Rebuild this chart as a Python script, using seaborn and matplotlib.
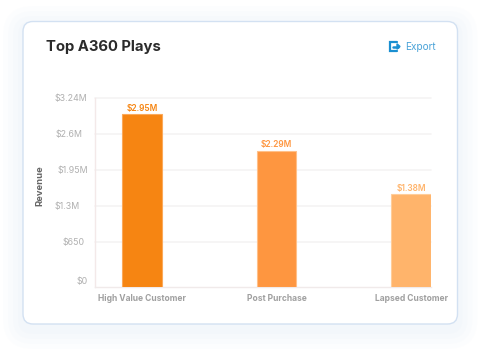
import matplotlib
matplotlib.use('Agg')
import matplotlib.pyplot as plt
import matplotlib.transforms as mtrans
from matplotlib.patches import FancyBboxPatch
import pandas as pd
import seaborn as sns

categories = ['High Value Customer', 'Post Purchase', 'Lapsed Customer']
# bar heights in $M as drawn (the third bar is drawn taller than its label says)
bar_heights = [2.95, 2.29, 1.51]
bar_labels = ['$2.95M', '$2.29M', '$1.38M']
bar_colors = ['#f68512', '#fe9640', '#ffb46b']
edge_colors = ['#fba95a', '#ffc089', '#ffcd9a']
y_ticks = [0, 0.65, 1.3, 1.95, 2.6, 3.24]
y_tick_labels = ['$0', '$650', '$1.3M', '$1.95M', '$2.6M', '$3.24M']

df = pd.DataFrame({'play': categories, 'revenue': bar_heights})

sns.set_style('white')
plt.rcParams['font.family'] = ['Inter', 'DejaVu Sans']

fig = plt.figure(figsize=(4.8, 3.6), dpi=100, facecolor='white')

# background layer in pixel coordinates for the card
bg = fig.add_axes([0, 0, 1, 1])
bg.set_xlim(0, 480)
bg.set_ylim(360, 0)
bg.axis('off')

# soft shadow round the card
for grow, alpha in [(20, 0.12), (15, 0.16), (10, 0.2), (5, 0.25)]:
    bg.add_patch(FancyBboxPatch((23 - grow, 26 - grow), 434.5 + 2 * grow, 303 + 2 * grow,
                                boxstyle='round,pad=0,rounding_size=%d' % (10 + grow),
                                fc='#eef3fb', ec='none', alpha=alpha))
bg.add_patch(FancyBboxPatch((23, 21.5), 434.5, 302.5, boxstyle='round,pad=0,rounding_size=10',
                            fc='white', ec='#d3e1f2', lw=1))

# export icon
bg.plot([397, 390, 390, 397], [42, 42, 51, 51], color='#1a8fd1', lw=1.6, solid_joinstyle='miter')
bg.plot([392.5, 397.5], [46.5, 46.5], color='#1a8fd1', lw=1.8)
bg.fill([397, 397, 400], [43.8, 49.2, 46.5], color='#1a8fd1')
bg.text(405, 46.8, 'Export', color='#4aa3d8', fontsize=7.2, va='center', ha='left')
bg.text(46, 47.5, 'Top A360 Plays', color='#2b2b2b', fontsize=10.7, fontweight='bold', va='center', ha='left')

# chart axes, pixel box x 94.5-431, y 98-287
ax = fig.add_axes([94.5 / 480, 1 - 287 / 360, 336.5 / 480, 189 / 360])
ax.patch.set_alpha(0)
sns.barplot(data=df, x='play', y='revenue', hue='play', palette=bar_colors, legend=False,
            width=0.294, saturation=1, ax=ax, zorder=3)
ax.set_xlim(-0.353, 2.147)
ax.set_ylim(-0.16, 3.24)

# bars start from the bottom of the axes
for bar, h, ec in zip(ax.patches, bar_heights, edge_colors):
    bar.set_y(-0.16)
    bar.set_height(h + 0.16)
    bar.set_edgecolor(ec)
    bar.set_linewidth(0.8)

for i, (h, lab, col) in enumerate(zip(bar_heights, bar_labels, bar_colors)):
    ax.annotate(lab, (i, h), xytext=(0, 1.5), textcoords='offset pixels', ha='center', va='bottom',
                color=col, fontsize=6, fontweight='semibold')

ax.set_yticks(y_ticks)
ax.set_yticklabels(y_tick_labels, color='#b0b0b0', fontsize=6.4)
ax.tick_params(axis='y', length=0, pad=4.5)
ax.tick_params(axis='x', length=0, pad=5)
ax.set_xticks(range(3))
ax.set_xticklabels(categories, color='#a0a0a0', fontsize=6.1, fontweight='bold')
ax.set_xlabel('')
ax.set_ylabel('')
fig.text(40 / 480, 1 - 186 / 360, 'Revenue', rotation=90, color='#666666', fontsize=6.8,
         fontweight='bold', ha='center', va='center')

# tick labels in the source do not line up, nudge them (pixels)
nudges = [(0, -2.6), (-4, 0), (-8, 0), (0, 0), (-6, 0), (-1, 0)]
for lab, (dx, dy) in zip(ax.get_yticklabels(), nudges):
    lab.set_transform(lab.get_transform() + mtrans.Affine2D().translate(dx, dy))

# gridlines, none at zero
for v in y_ticks[1:]:
    ax.axhline(v, color='#f5f3f3', lw=1.2, zorder=1, clip_on=False)

sns.despine(ax=ax, right=True, top=True)
ax.spines['left'].set_color('#f3e9e9')
ax.spines['bottom'].set_color('#f0eaea')
ax.spines['left'].set_linewidth(1)
ax.spines['bottom'].set_linewidth(1)

fig.savefig('out.png', dpi=100)
